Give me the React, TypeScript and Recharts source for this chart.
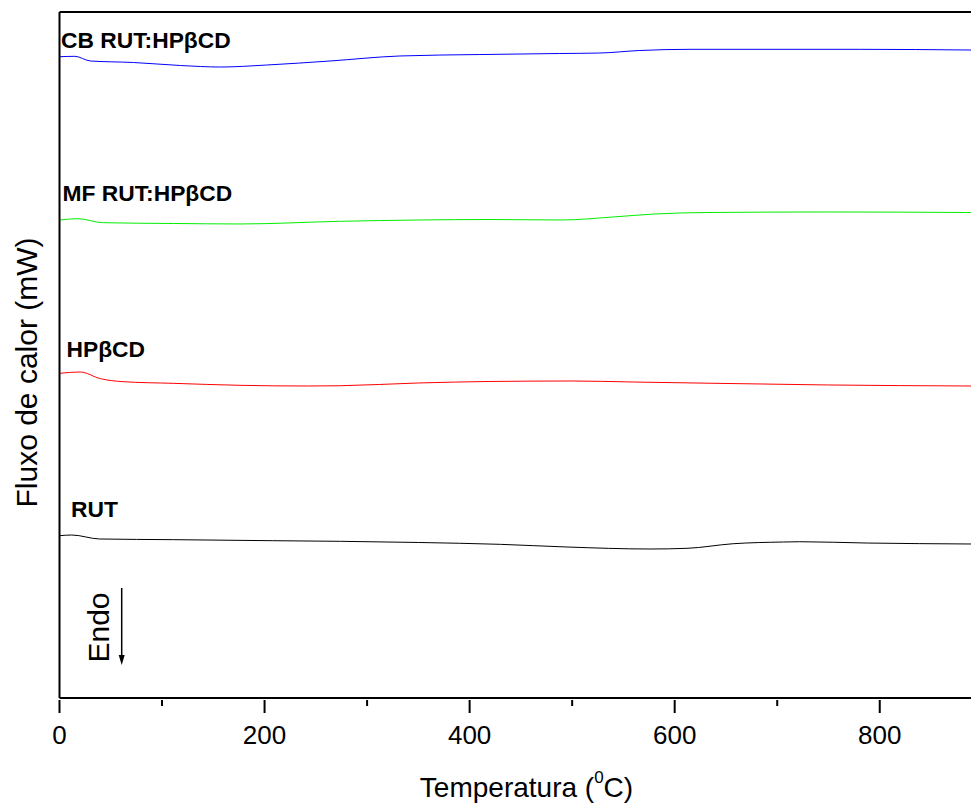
import React from 'react';
import { LineChart, Line, XAxis, YAxis } from 'recharts';

// Curvas DSC (fluxo de calor, unidades arbitrárias, deslocadas verticalmente)
const tempCB = [0, 15, 30, 72, 118, 157, 202, 264, 332, 410, 488, 527, 566, 615, 781, 889];
const fluxCB = [9.348, 9.354, 9.286, 9.264, 9.22, 9.198, 9.227, 9.286, 9.359, 9.38, 9.395, 9.402, 9.439, 9.456, 9.456, 9.446];

const tempMF = [0, 18, 42, 111, 176, 274, 350, 420, 490, 540, 580, 630, 750, 889];
const fluxMF = [6.968, 6.987, 6.929, 6.917, 6.91, 6.949, 6.968, 6.975, 6.968, 7.012, 7.055, 7.077, 7.085, 7.077];

const tempHP = [0, 20, 40, 62, 111, 176, 242, 274, 350, 420, 500, 560, 650, 750, 889];
const fluxHP = [4.733, 4.752, 4.655, 4.611, 4.587, 4.558, 4.548, 4.552, 4.592, 4.614, 4.621, 4.606, 4.585, 4.563, 4.548];

const tempRUT = [0, 12, 39, 111, 208, 274, 350, 430, 495, 576, 612, 657, 706, 722, 788, 889];
const fluxRUT = [2.366, 2.376, 2.318, 2.308, 2.293, 2.284, 2.267, 2.24, 2.201, 2.172, 2.182, 2.249, 2.274, 2.278, 2.259, 2.245];

const xTicks = [0, 100, 200, 300, 400, 500, 600, 700, 800];

const toPoints = (t: number[], f: number[]) => t.map((x, i) => ({ t: x, f: f[i] }));

const series = [
  { name: 'CB RUT:HPβCD', color: '#0000ff', data: toPoints(tempCB, fluxCB) },
  { name: 'MF RUT:HPβCD', color: '#00ee00', data: toPoints(tempMF, fluxMF) },
  { name: 'HPβCD', color: '#ff0000', data: toPoints(tempHP, fluxHP) },
  { name: 'RUT', color: '#000000', data: toPoints(tempRUT, fluxRUT) },
];

const FONT = "Arial, 'Liberation Sans', sans-serif";

// rótulos só nas centenas pares, traços menores nas ímpares
const TempTick = ({ x, y, payload }: any) => {
  const major = payload.value % 200 === 0;
  return (
    <g>
      <line x1={x} x2={x} y1={y} y2={y + (major ? 13 : 6)} stroke="#000" strokeWidth={2} />
      {major && (
        <text x={x} y={y + 44} textAnchor="middle" fontSize={26} fontFamily={FONT} fill="#000">
          {payload.value}
        </text>
      )}
    </g>
  );
};

export default function App() {
  return (
    <div style={{ position: 'absolute', left: 0, top: 0, width: 971, height: 805, overflow: 'hidden', background: '#fff' }}>
      <LineChart width={971} height={805} margin={{ top: 11, right: 0, bottom: 0, left: 58.5 }}>
        <XAxis
          dataKey="t"
          type="number"
          domain={[0, 889]}
          ticks={xTicks}
          allowDataOverflow
          height={107}
          tickSize={0}
          tickLine={false}
          tick={<TempTick />}
          axisLine={{ stroke: '#000', strokeWidth: 2 }}
        />
        <XAxis
          xAxisId="top"
          orientation="top"
          type="number"
          domain={[0, 889]}
          height={1}
          tick={false}
          tickLine={false}
          axisLine={{ stroke: '#000', strokeWidth: 2 }}
        />
        <YAxis
          type="number"
          domain={[0, 10]}
          width={1}
          tick={false}
          tickLine={false}
          axisLine={{ stroke: '#000', strokeWidth: 2 }}
        />
        {series.map((s) => (
          <Line
            key={s.name}
            data={s.data}
            dataKey="f"
            type="monotone"
            stroke={s.color}
            strokeWidth={1}
            dot={false}
            isAnimationActive={false}
          />
        ))}
      </LineChart>

      {/* textos e seta "Endo" */}
      <svg width={971} height={805} style={{ position: 'absolute', left: 0, top: 0, pointerEvents: 'none' }}>
        <g fontFamily={FONT} fill="#000">
          <text x={61} y={48} fontSize={22.8} fontWeight="bold">CB RUT:HPβCD</text>
          <text x={62.5} y={200.5} fontSize={22.8} fontWeight="bold">MF RUT:HPβCD</text>
          <text x={66.5} y={357} fontSize={22.8} fontWeight="bold">HPβCD</text>
          <text x={71} y={517} fontSize={22.8} fontWeight="bold">RUT</text>

          <text x={526.5} y={797} fontSize={28} textAnchor="middle">
            Temperatura (<tspan fontSize={17} dy={-14}>0</tspan><tspan dy={14}>C)</tspan>
          </text>
          <text x={37} y={372.5} fontSize={30} textAnchor="middle" transform="rotate(-90, 37, 372.5)">
            Fluxo de calor (mW)
          </text>
          <text x={109} y={627.5} fontSize={30} textAnchor="middle" transform="rotate(-90, 109, 627.5)">
            Endo
          </text>
        </g>
        <line x1={121.7} x2={121.7} y1={588} y2={658} stroke="#000" strokeWidth={1.5} />
        <polygon points="118.7,655 124.7,655 121.7,665" fill="#000" />
      </svg>
    </div>
  );
}
